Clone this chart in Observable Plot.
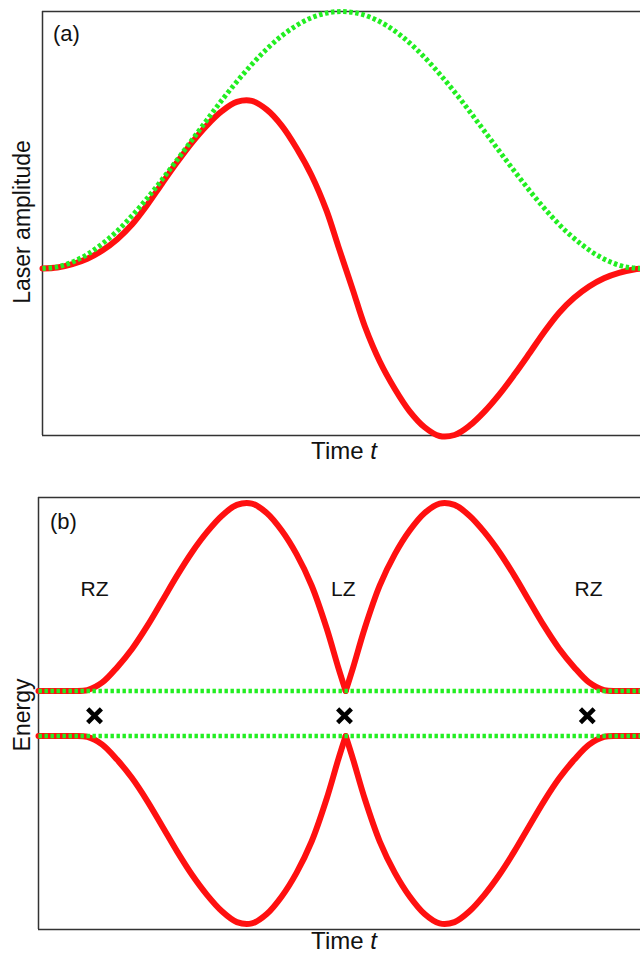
<!DOCTYPE html>
<html>
<head>
<meta charset="utf-8">
<script src="https://cdn.jsdelivr.net/npm/d3@7"></script>
<script src="https://cdn.jsdelivr.net/npm/@observablehq/plot@0.6"></script>
<style>
  html, body { margin: 0; padding: 0; background: #fff; overflow: hidden; }
  #wrap { position: relative; width: 640px; height: 954px; font-family: "Liberation Sans", Arial, sans-serif; }
  #wrap svg { position: absolute; left: 0; }
  .lbl { position: absolute; white-space: nowrap; color: #111; font-size: 23px; transform: translate(-50%, -50%); line-height: 1; }
  .rot { transform: translate(-50%, -50%) rotate(-90deg); }
</style>
</head>
<body>
<div id="wrap"></div>
<script>
// ---------- Panel (a): laser amplitude vs time ----------
const envT   = [0, 0.025, 0.05, 0.075, 0.10, 0.125, 0.15, 0.175, 0.20, 0.225, 0.25, 0.275, 0.30, 0.325, 0.35, 0.375, 0.40, 0.425, 0.45, 0.475, 0.50,
                0.525, 0.55, 0.575, 0.60, 0.625, 0.65, 0.675, 0.70, 0.725, 0.75, 0.775, 0.80, 0.825, 0.85, 0.875, 0.90, 0.925, 0.95, 0.975, 1.0];
const envAmp = [0, 0.006, 0.025, 0.055, 0.096, 0.146, 0.206, 0.273, 0.346, 0.422, 0.50, 0.578, 0.655, 0.727, 0.794, 0.854, 0.905, 0.946, 0.976, 0.994, 1.0,
                0.994, 0.976, 0.946, 0.905, 0.854, 0.794, 0.727, 0.655, 0.578, 0.50, 0.422, 0.346, 0.273, 0.206, 0.146, 0.096, 0.055, 0.025, 0.006, 0];

const laserT   = [0, 0.025, 0.05, 0.075, 0.10, 0.125, 0.15, 0.175, 0.20, 0.225, 0.25, 0.275, 0.30, 0.325, 0.35, 0.375, 0.40, 0.425, 0.45, 0.475, 0.4945, 0.507,
                  0.5195, 0.539, 0.564, 0.589, 0.614, 0.639, 0.664, 0.689, 0.714, 0.739, 0.764, 0.789, 0.814, 0.839, 0.864, 0.889, 0.914, 0.939, 0.964, 0.989, 1.0];
const laserAmp = [0, 0.004, 0.017, 0.038, 0.070, 0.114, 0.172, 0.247, 0.331, 0.413, 0.490, 0.557, 0.612, 0.648, 0.652, 0.618, 0.556, 0.468, 0.362, 0.225, 0.087, 0,
                  -0.087, -0.225, -0.362, -0.468, -0.556, -0.618, -0.652, -0.648, -0.612, -0.557, -0.490, -0.413, -0.331, -0.247, -0.172, -0.114, -0.070, -0.038, -0.017, -0.004, -0.001];

// ---------- Panel (b): adiabatic energies vs time ----------
// two branches of each curve, meeting at the level-crossing point (t = 0.507)
const energyT1     = [-0.0067, 0.025, 0.05, 0.075, 0.10, 0.125, 0.15, 0.175, 0.20, 0.225, 0.25, 0.275, 0.30, 0.325, 0.35, 0.375, 0.40, 0.425, 0.45, 0.475, 0.4945, 0.507];
const energyUpper1 = [0.10, 0.10, 0.10, 0.104, 0.138, 0.206, 0.288, 0.388, 0.500, 0.613, 0.717, 0.806, 0.879, 0.927, 0.933, 0.891, 0.813, 0.707, 0.569, 0.380, 0.205, 0.10];
const energyLower1 = [-0.10, -0.10, -0.10, -0.104, -0.138, -0.206, -0.288, -0.388, -0.500, -0.613, -0.717, -0.806, -0.879, -0.927, -0.933, -0.891, -0.813, -0.707, -0.569, -0.380, -0.205, -0.10];
const energyT2     = [0.507, 0.5195, 0.539, 0.564, 0.589, 0.614, 0.639, 0.664, 0.689, 0.714, 0.739, 0.764, 0.789, 0.814, 0.839, 0.864, 0.889, 0.914, 0.939, 0.964, 0.989, 1.0];
const energyUpper2 = [0.10, 0.205, 0.380, 0.569, 0.707, 0.813, 0.891, 0.933, 0.927, 0.879, 0.806, 0.717, 0.613, 0.500, 0.388, 0.288, 0.206, 0.138, 0.104, 0.10, 0.10, 0.10];
const energyLower2 = [-0.10, -0.205, -0.380, -0.569, -0.707, -0.813, -0.891, -0.933, -0.927, -0.879, -0.806, -0.717, -0.613, -0.500, -0.388, -0.288, -0.206, -0.138, -0.104, -0.10, -0.10, -0.10];

const diabT      = [-0.0067, 1.0];
const diabUpper  = [0.10, 0.10];
const diabLower  = [-0.10, -0.10];

const crossT     = [0.087, 0.505, 0.911];
const crossE     = [-0.01, -0.01, -0.01];

const zoneLabels = ["RZ", "LZ", "RZ"];
const zoneT      = [0.087, 0.503, 0.913];
const zoneE      = [0.551, 0.551, 0.551];

const RED = "#ff1010";
const GREEN = "#22ee22";
const FRAME = "#333";
const FONT = "Liberation Sans, Arial, sans-serif";

const envData   = envT.map((t, i) => ({t, a: envAmp[i]}));
const laserData = laserT.map((t, i) => ({t, a: laserAmp[i]}));
const adiab = [
  ...energyT1.map((t, i) => ({t, e: energyUpper1[i], k: "u1"})),
  ...energyT2.map((t, i) => ({t, e: energyUpper2[i], k: "u2"})),
  ...energyT1.map((t, i) => ({t, e: energyLower1[i], k: "l1"})),
  ...energyT2.map((t, i) => ({t, e: energyLower2[i], k: "l2"}))
];
const diab = [
  ...diabT.map((t, i) => ({t, e: diabUpper[i], k: "u"})),
  ...diabT.map((t, i) => ({t, e: diabLower[i], k: "l"}))
];
const crosses   = crossT.map((t, i) => ({t, e: crossE[i]}));
const zones     = zoneLabels.map((s, i) => ({s, t: zoneT[i], e: zoneE[i]}));

const wrap = document.getElementById("wrap");

// Panel (a)
const xA = [0, 1], yA = [-0.65, 1.0];
const plotA = Plot.plot({
  width: 640, height: 440,
  marginLeft: 42, marginRight: 0, marginTop: 11, marginBottom: 5,
  x: {domain: xA, axis: null},
  y: {domain: yA, axis: null},
  style: {background: "transparent", overflow: "visible", fontFamily: FONT},
  marks: [
    Plot.ruleX([xA[0]], {y1: yA[0], y2: yA[1], stroke: FRAME, strokeWidth: 1.5}),
    Plot.ruleY([yA[1]], {x1: xA[0], x2: xA[1], stroke: FRAME, strokeWidth: 1.5}),
    Plot.ruleY([yA[0]], {x1: xA[0], x2: xA[1], stroke: FRAME, strokeWidth: 1.5}),
    Plot.line(laserData, {x: "t", y: "a", stroke: RED, strokeWidth: 6, curve: "catmull-rom"}),
    Plot.line(envData, {x: "t", y: "a", stroke: GREEN, strokeWidth: 5, strokeDasharray: "3.5,2.6", strokeLinecap: "butt", curve: "catmull-rom"}),
    Plot.text([{t: 0.040, a: 0.914}], {x: "t", y: "a", text: () => "(a)", fontSize: 22, fill: "#111", fontFamily: FONT})
  ]
});
plotA.style.top = "0px";
wrap.appendChild(plotA);

// Panel (b)
const xB = [-0.0067, 1], yB = [-0.96, 0.96];
const plotB = Plot.plot({
  width: 640, height: 445,
  marginLeft: 38, marginRight: 0, marginTop: 7, marginBottom: 6,
  x: {domain: xB, axis: null},
  y: {domain: yB, axis: null},
  style: {background: "transparent", overflow: "visible", fontFamily: FONT},
  marks: [
    Plot.ruleX([xB[0]], {y1: yB[0], y2: yB[1], stroke: FRAME, strokeWidth: 1.5}),
    Plot.ruleY([yB[1]], {x1: xB[0], x2: xB[1], stroke: FRAME, strokeWidth: 1.5}),
    Plot.ruleY([yB[0]], {x1: xB[0], x2: xB[1], stroke: FRAME, strokeWidth: 1.5}),
    Plot.line(adiab, {x: "t", y: "e", z: "k", stroke: RED, strokeWidth: 6, curve: "catmull-rom"}),
    Plot.line(diab, {x: "t", y: "e", z: "k", stroke: GREEN, strokeWidth: 4.5, strokeDasharray: "3.4,2.6", strokeLinecap: "butt"}),
    Plot.dot(crosses, {x: "t", y: "e", symbol: "times", r: 6.3, stroke: "#000", strokeWidth: 4.5}),
    Plot.text(zones, {x: "t", y: "e", text: "s", fontSize: 21, fill: "#111", fontFamily: FONT}),
    Plot.text([{t: 0.035, e: 0.853}], {x: "t", y: "e", text: () => "(b)", fontSize: 22, fill: "#111", fontFamily: FONT})
  ]
});
plotB.style.top = "490px";
wrap.appendChild(plotB);

// Axis labels (HTML overlay, italic variable)
function label(html, x, y, rotate, size) {
  const d = document.createElement("div");
  d.className = "lbl" + (rotate ? " rot" : "");
  d.style.left = x + "px";
  d.style.top = y + "px";
  if (size) d.style.fontSize = size + "px";
  d.innerHTML = html;
  wrap.appendChild(d);
}
label("Laser amplitude", 22, 222, true, 23);
label("Time <i>t</i>", 344, 451, false, 24);
label("Energy", 22, 715, true, 23);
label("Time <i>t</i>", 344, 941, false, 24);
</script>
</body>
</html>
